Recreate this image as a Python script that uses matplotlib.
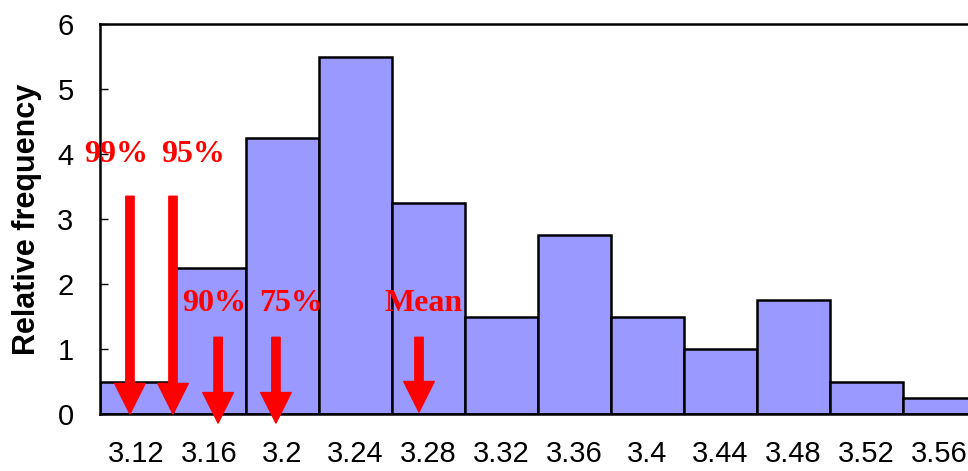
import matplotlib; matplotlib.use('Agg')
import matplotlib.pyplot as plt
import numpy as np

# histogram bins (centres) and relative frequency
centres = [3.12, 3.16, 3.20, 3.24, 3.28, 3.32, 3.36, 3.40, 3.44, 3.48, 3.52, 3.56]
labels = ["3.12", "3.16", "3.2", "3.24", "3.28", "3.32", "3.36", "3.4", "3.44", "3.48", "3.52", "3.56"]
freq = [0.5, 2.25, 4.25, 5.5, 3.25, 1.5, 2.75, 1.5, 1.0, 1.75, 0.5, 0.25]

# quantile markers: name, x position, arrow top, arrow tip
marks = ["99%", "95%", "90%", "75%", "Mean"]
mark_x = [3.1164, 3.1400, 3.1647, 3.1964, 3.2748]
mark_top = [3.35, 3.35, 1.18, 1.18, 1.18]
mark_tip = [0.0, 0.0, -0.14, -0.14, 0.03]
text_x = [3.1087, 3.1511, 3.1627, 3.2047, 3.2772]
text_y = [4.0, 4.0, 1.7, 1.7, 1.7]

W = 0.04
fig = plt.figure(figsize=(9.68, 4.71), dpi=100)
ax = fig.add_axes([100/968, 57/471, 876/968, 390/471])

ax.bar(centres, freq, width=W, color="#9999FF", edgecolor="black", linewidth=1.8)
ax.set_xlim(centres[0] - W/2, centres[-1] + W/2)
ax.set_ylim(0, 6)

for m, x, top, tip, tx, ty in zip(marks, mark_x, mark_top, mark_tip, text_x, text_y):
    ax.annotate("", xy=(x, tip), xytext=(x, top), annotation_clip=False,
                arrowprops=dict(arrowstyle="simple,head_length=22,head_width=22,tail_width=6",
                                mutation_scale=1, color="red", shrinkA=0, shrinkB=0))
    ax.text(tx, ty, m, color="red", fontsize=23, fontweight="bold",
            family="Liberation Serif", ha="center", va="center")

ax.set_xticks(centres)
ax.set_xticklabels(labels, fontsize=21, family="Liberation Sans")
ax.tick_params(axis="x", length=0, pad=19)
ax.set_yticks(range(7))
ax.set_yticklabels([str(i) for i in range(7)], fontsize=21, family="Liberation Sans")
ax.tick_params(axis="y", direction="in", length=6, width=1, pad=19)
for s in ax.spines.values():
    s.set_linewidth(1.8)

ax.set_ylabel("Relative frequency", fontsize=22, fontweight="bold", family="Liberation Sans")
ax.yaxis.set_label_coords(-58/876, 0.5)

plt.savefig("out.png", dpi=100)
plt.close()
